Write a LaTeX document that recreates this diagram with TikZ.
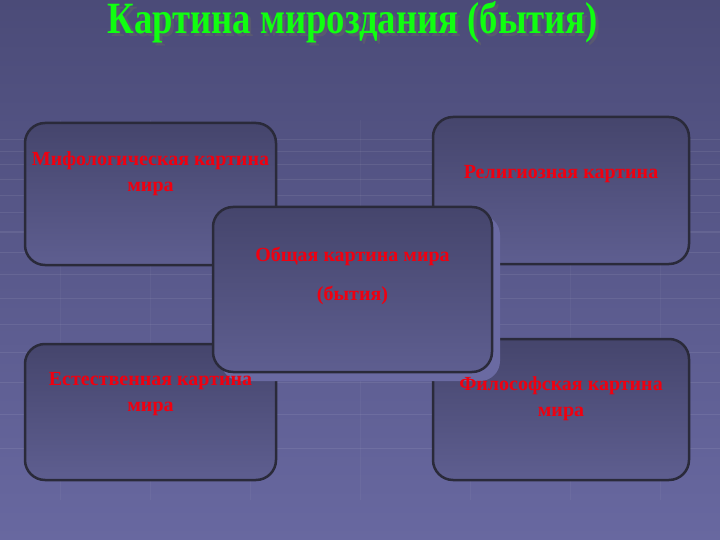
\documentclass[tikz,border=0pt]{standalone}
\usepackage{fontspec}
\setmainfont{Liberation Serif}
\usepackage{graphicx}
\usetikzlibrary{positioning}

\definecolor{bgtop}{HTML}{4B4B78}
\definecolor{bgbot}{HTML}{6868A0}
\definecolor{boxtop}{HTML}{45456C}
\definecolor{boxbot}{HTML}{5E5E90}
\definecolor{boxline}{HTML}{2A2A3A}
\definecolor{shadowblue}{HTML}{6A6AA2}
\definecolor{titlegreen}{HTML}{10FF10}
\definecolor{labelred}{HTML}{F00010}

\begin{document}
\begin{tikzpicture}[
        x=1pt, y=-1pt,
        every node/.style={align=center},
        box/.style={rectangle, rounded corners=20pt, draw=boxline, line width=2.5pt,
            top color=boxtop, bottom color=boxbot},
        lbl/.style={font=\bfseries\fontsize{20}{26}\selectfont, text=labelred, inner sep=0pt},
        grid/.style={white, opacity=0.08, line width=1pt}
    ]
    % Background
    \useasboundingbox (0,0) rectangle (720,540);
    \shade[top color=bgtop, bottom color=bgbot] (0,0) rectangle (720,540);
    \foreach \y in {140,152,165,180,196,213,232,252,274,298,324,352,382,414,448}
        \draw[grid] (0,\y) -- (720,\y);
    \foreach \x in {60,150,250,360,470,570,660}
        \draw[grid, opacity=0.04] (\x,120) -- (\x,500);
    % Title
    \node[text=black!60, opacity=0.5, anchor=base] (titleshadow) at (356,37)
        {\resizebox{490pt}{32pt}{\bfseries Картина мироздания (бытия)}};
    \node[text=titlegreen, anchor=base] (title) at (353,34)
        {\resizebox{490pt}{32pt}{\bfseries Картина мироздания (бытия)}};
    % Boxes
    \node[box, minimum width=251pt, minimum height=142pt] (myth) at (150.5,194) {};
    \node[box, minimum width=256pt, minimum height=147pt] (relig) at (561,190.5) {};
    \node[box, minimum width=251pt, minimum height=136pt] (nat) at (150.5,412) {};
    \node[box, minimum width=256pt, minimum height=141pt] (phil) at (561,409.5) {};
    \fill[shadowblue, rounded corners=20pt] (221,215) rectangle (500,381);
    \node[box, minimum width=279pt, minimum height=165pt] (gen) at (352.5,289.5) {};
    % Labels
    \node[lbl, below=30pt of myth.north] (mythtxt) {Мифологическая картина\\мира};
    \node[lbl, below=49pt of relig.north] (religtxt) {Религиозная картина};
    \node[lbl, below=41pt of gen.north, font=\bfseries\fontsize{20}{39}\selectfont] (gentxt) {Общая картина мира\\(бытия)};
    \node[lbl, below=29pt of nat.north] (nattxt) {Естественная картина\\мира};
    \node[lbl, below=39pt of phil.north] (philtxt) {Философская картина\\мира};
\end{tikzpicture}
\end{document}
